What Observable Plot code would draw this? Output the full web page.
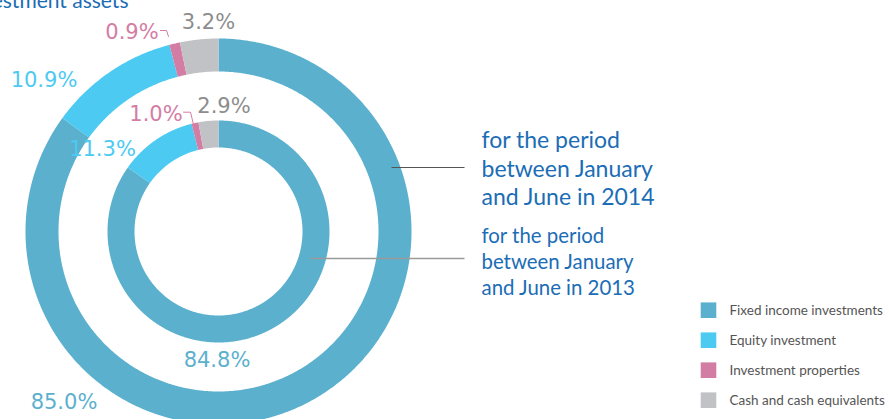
<!DOCTYPE html>
<html><head><meta charset="utf-8">
<script src="https://cdn.jsdelivr.net/npm/d3@7"></script>
<script src="https://cdn.jsdelivr.net/npm/@observablehq/plot@0.6"></script>
<style>body{margin:0;background:#fff;overflow:hidden} svg{display:block}</style>
</head><body><div id="chart"></div>
<script>
// ---- data ----
const title = "Investment assets";
const categories = ["Fixed income investments", "Equity investment", "Investment properties", "Cash and cash equivalents"];
const periods = ["for the period\nbetween January\nand June in 2014", "for the period\nbetween January\nand June in 2013"];
const values2014 = [85.0, 10.9, 0.9, 3.2];
const values2013 = [84.8, 11.3, 1.0, 2.9];

// ---- styles ----
const colors = ["#5BB0CE", "#4DCAF2", "#D37DA5", "#C1C2C6"];
const labelColors = ["#5BB0CE", "#4DCAF2", "#D37DA5", "#8D8D8D"];
const blue = "#1B6DB5";

// ---- layout (chart units, centre of the donut at 0,0) ----
const rings = [
  {values: values2014, r0: 160, r1: 193},
  {values: values2013, r0: 84, r1: 111}
];
const labelPos = [
  [[-154.5, -171], [-174.5, 151], [-86.5, 199], [-10, 209]],
  [[-1.5, -129], [-116, 82], [-62.5, 117], [5.5, 125]]
];
const hooks = [
  [[-58, 201], [-52, 201], [-50, 195]],
  [[-35, 119.3], [-28, 119.3], [-25.3, 108.3]]
];
const leaders = [
  {x1: 173, x2: 246, y: 64, stroke: "#555", w: 1.2},
  {x1: 92, x2: 246, y: -27, stroke: "#9a9a9a", w: 1.6}
];
const periodText = [
  {x: 263, y: 64, size: 23},
  {x: 263, y: -29, size: 20.4}
];
const legendX = 490, legendTextX = 511, legendY0 = -78.7, legendStep = 30;

// ---- build arc polygons from values ----
const arcPts = [];
const labels = [];
rings.forEach((ring, ri) => {
  const total = d3.sum(ring.values);
  let acc = 0;
  ring.values.forEach((v, i) => {
    const a0 = acc / total * 2 * Math.PI, a1 = (acc + v) / total * 2 * Math.PI;
    acc += v;
    const n = Math.max(2, Math.ceil((a1 - a0) / (Math.PI / 360)));
    const key = ri + "-" + i;
    for (let k = 0; k <= n; k++) {
      const a = a0 + (a1 - a0) * k / n;
      arcPts.push({key, cat: categories[i], x: ring.r1 * Math.sin(a), y: ring.r1 * Math.cos(a)});
    }
    for (let k = n; k >= 0; k--) {
      const a = a0 + (a1 - a0) * k / n;
      arcPts.push({key, cat: categories[i], x: ring.r0 * Math.sin(a), y: ring.r0 * Math.cos(a)});
    }
    labels.push({text: d3.format(".1f")(v) + "%", x: labelPos[ri][i][0], y: labelPos[ri][i][1], color: labelColors[i]});
  });
});
const hookPts = hooks.flatMap((h, hi) => h.map(p => ({key: hi, x: p[0], y: p[1]})));

const chart = Plot.plot({
  width: 889, height: 419,
  marginTop: 0, marginRight: 0, marginBottom: 0, marginLeft: 0,
  x: {domain: [-218, 671], axis: null},
  y: {domain: [-188, 231], axis: null},
  color: {domain: categories, range: colors},
  style: {background: "white"},
  marks: [
    Plot.line(arcPts, {x: "x", y: "y", z: "key", fill: "cat", stroke: "none", curve: "linear-closed"}),
    Plot.link(leaders, {x1: "x1", x2: "x2", y1: "y", y2: "y", stroke: d => d.stroke, strokeWidth: d => d.w}),
    Plot.line(hookPts, {x: "x", y: "y", z: "key", stroke: colors[2], strokeWidth: 1}),
    Plot.text(labels, {x: "x", y: "y", text: "text", fill: d => d.color, fontSize: 21, fontFamily: "DejaVu Sans", textAnchor: "middle", lineAnchor: "middle"}),
    Plot.text([periods[0]], {x: () => periodText[0].x, y: () => periodText[0].y, text: d => d, fill: blue, fontSize: periodText[0].size, fontFamily: "Lato", textAnchor: "start", lineAnchor: "middle", lineHeight: 1.24}),
    Plot.text([periods[1]], {x: () => periodText[1].x, y: () => periodText[1].y, text: d => d, fill: blue, fontSize: periodText[1].size, fontFamily: "Lato", textAnchor: "start", lineAnchor: "middle", lineHeight: 1.27}),
    Plot.dot(categories, {x: () => legendX, y: (d, i) => legendY0 - legendStep * i, fill: d => d, symbol: "square", r: 8.8, stroke: "none"}),
    Plot.text(categories, {x: () => legendTextX, y: (d, i) => legendY0 - legendStep * i, text: d => d, fill: "#555", fontSize: 13.5, fontFamily: "Lato", textAnchor: "start", lineAnchor: "middle"}),
    Plot.text([title], {x: () => -90, y: () => 224, text: d => d, fill: blue, fontSize: 21, fontFamily: "Lato", textAnchor: "end", lineAnchor: "bottom"})
  ]
});
document.getElementById("chart").append(chart);
</script>
</body></html>
